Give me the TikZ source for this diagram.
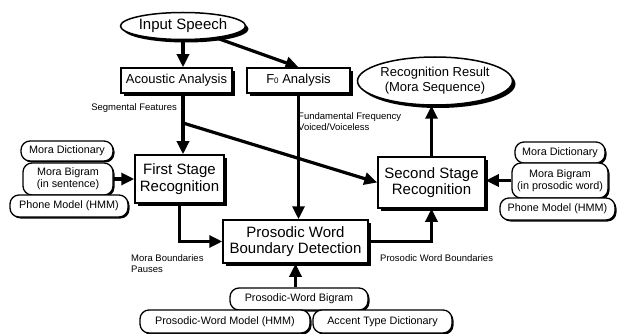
\documentclass[tikz,border=0pt]{standalone}
\usepackage{fontspec}
\setmainfont{Liberation Sans}
\usetikzlibrary{shapes.geometric,arrows.meta,shadows}

\tikzset{
  mainbox/.style={draw, line width=1.5pt, fill=white, inner sep=0pt, align=center,
    font=\fontsize{15}{16.5}\selectfont,
    drop shadow={shadow xshift=3pt, shadow yshift=-3pt, fill=black, opacity=1}},
  oval/.style={ellipse, draw, line width=1.5pt, fill=white, inner sep=0pt, align=center,
    drop shadow={shadow xshift=3pt, shadow yshift=-3pt, fill=black, opacity=1}},
  pill/.style={draw, line width=1.3pt, fill=white, rounded corners=9pt, inner sep=0pt,
    align=center, font=\fontsize{10.8}{12}\selectfont,
    drop shadow={shadow xshift=1.5pt, shadow yshift=-1.5pt, fill=black, opacity=1}},
  lbl/.style={inner sep=0pt, font=\fontsize{9.5}{11}\selectfont},
  arr/.style={line width=3.2pt, -{Triangle[length=13pt,width=12pt]}},
  seg/.style={line width=3.2pt}
}

\begin{document}
\begin{tikzpicture}[x=1pt, y=-1pt]
  \useasboundingbox (0,0) rectangle (624,334);

  %inputs and analysis
  \node[oval, minimum width=117pt, minimum height=27pt, font=\fontsize{15}{16}\selectfont]
    (inspeech) at (183,26) {Input Speech};
  \node[mainbox, minimum width=111pt, minimum height=25pt, font=\fontsize{13}{14}\selectfont]
    (acoustic) at (176.5,80.5) {Acoustic Analysis};
  \node[mainbox, minimum width=103pt, minimum height=25pt, font=\fontsize{13}{14}\selectfont]
    (fzero) at (298.5,80.5) {F{\fontsize{8}{8}\selectfont 0} Analysis};

  %recognition stages
  \node[mainbox, minimum width=89pt, minimum height=48pt] (first) at (179.5,179)
    {First Stage\\Recognition};
  \node[mainbox, minimum width=145pt, minimum height=43pt] (prosodic) at (295.5,241.5)
    {Prosodic Word\\Boundary Detection};
  \node[mainbox, minimum width=107pt, minimum height=51pt] (second) at (431.5,182.5)
    {Second Stage\\Recognition};
  \node[oval, minimum width=155pt, minimum height=48pt, font=\fontsize{13}{15}\selectfont]
    (result) at (435,81) {Recognition Result\\(Mora Sequence)};

  %knowledge sources, left
  \node[pill, minimum width=92pt, minimum height=20pt] (ldict) at (67,151) {Mora Dictionary};
  \node[pill, minimum width=90pt, minimum height=32pt] (lbigram) at (68,179)
    {Mora Bigram\\(in sentence)};
  \node[pill, minimum width=118pt, minimum height=22pt] (lphone) at (69,206) {Phone Model (HMM)};

  %knowledge sources, right
  \node[pill, minimum width=90pt, minimum height=21pt] (rdict) at (560,152.5) {Mora Dictionary};
  \node[pill, minimum width=96pt, minimum height=35pt] (rbigram) at (560,180.5)
    {Mora Bigram\\(in prosodic word)};
  \node[pill, minimum width=115pt, minimum height=22pt] (rphone) at (557.5,209) {Phone Model (HMM)};

  %knowledge sources, bottom
  \node[pill, minimum width=138pt, minimum height=22pt] (pwbigram) at (299,299) {Prosodic-Word Bigram};
  \node[pill, minimum width=170pt, minimum height=23pt] (pwmodel) at (225,321.5) {Prosodic-Word Model (HMM)};
  \node[pill, minimum width=139pt, minimum height=23pt] (accent) at (382.5,321.5) {Accent Type Dictionary};

  %connector labels
  \node[lbl, anchor=east] (seglbl) at (177,108) {Segmental Features};
  \node[lbl, anchor=west, align=left] (f0lbl) at (298,121.5) {Fundamental Frequency\\Voiced/Voiceless};
  \node[lbl, anchor=west, align=left] (moralbl) at (131,263.5) {Mora Boundaries\\Pauses};
  \node[lbl, anchor=west] (pwlbl) at (380,258) {Prosodic Word Boundaries};

  %connectors
  \coordinate (split) at (183,123);
  \draw[arr] (inspeech.south) -- (inspeech.south |- acoustic.north);
  \draw[arr] (inspeech) -- (fzero.north);
  \draw[seg] (inspeech.south |- acoustic.south) -- (split);
  \draw[arr] (split) -- (split |- first.north);
  \draw[arr] (split) -- (second.west);
  \draw[arr] (fzero.south) -- (fzero.south |- prosodic.north);
  \draw[arr] (first.south) |- (prosodic.west);
  \draw[arr] (prosodic.east) -| (second.south);
  \draw[arr] (second.north) -- (second.north |- result.south);
  \draw[arr] (lbigram.east) -- (first.west);
  \draw[arr] (rbigram.west) -- (rbigram.west -| second.east);
  \draw[arr] (prosodic.south |- pwbigram.north) -- (prosodic.south);
\end{tikzpicture}
\end{document}
